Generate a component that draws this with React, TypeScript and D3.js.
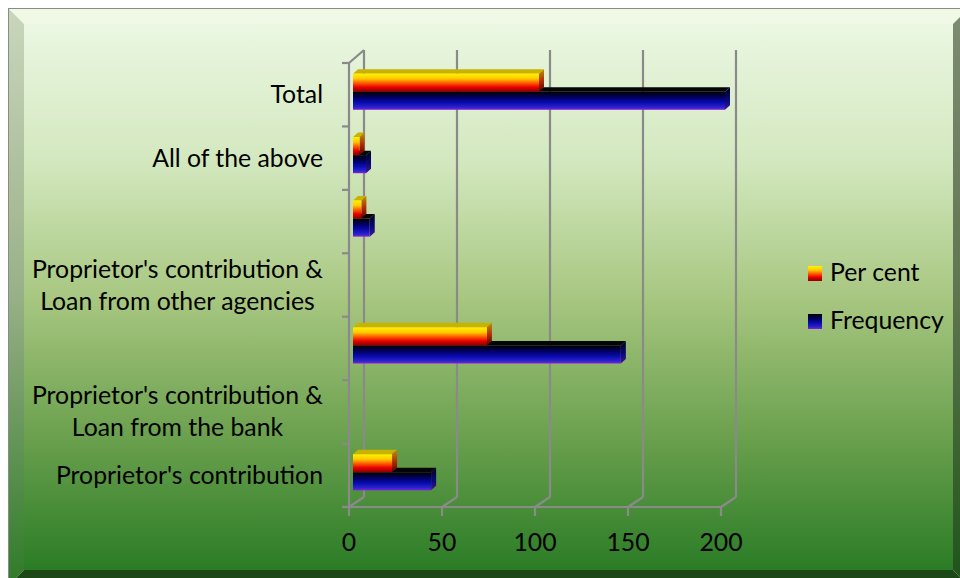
import React, { useLayoutEffect, useRef } from "react";
import * as d3 from "d3";

// Categories listed bottom to top, as they appear on the vertical axis
const categories: string[] = [
  "Proprietor's contribution",
  "Proprietor's contribution &\nLoan from the bank",
  "",
  "Proprietor's contribution &\nLoan from other agencies",
  "",
  "All of the above",
  "Total",
];
const frequency: number[] = [42, 0, 144, 0, 9, 7, 200];
const perCent: number[] = [21, 0, 72, 0, 4.5, 3.5, 100];
const seriesNames: string[] = ["Per cent", "Frequency"];
const xTicks: number[] = [0, 50, 100, 150, 200];

const W = 960;
const H = 578;
const FONT = "Lato, 'Open Sans', sans-serif";
const FS = 24.8;
const LABEL_RIGHT = 323;

// plot geometry (front plane) and 3D offsets
const X0 = 349;
const X1 = 721;
const YB = 507;
const YT = 63;
const DX = 15; // back wall offset
const DY = -10;
const BX = 4; // bar front face offset into depth
const BY = -3;
const EX = 5; // bar extrusion
const EY = -4.5;
const GRID = "#8a8a8a";

export default function App() {
  const labelsRef = useRef<SVGGElement>(null);
  const x = d3.scaleLinear().domain([0, 200]).range([X0, X1]);
  const idx = categories.map((_, i) => i);
  const y = d3.scaleBand<number>().domain(idx).range([YB, YT]).padding(0);
  const step = y.step();
  const groupH = step * 0.57;
  const sub = d3
    .scaleBand<string>()
    .domain(seriesNames)
    .range([0, groupH]);

  // multi-line labels: block right-aligned to the axis, lines centred within it
  useLayoutEffect(() => {
    if (!labelsRef.current) return;
    d3.select(labelsRef.current)
      .selectAll<SVGGElement, unknown>("g.label")
      .each(function () {
        const texts = d3.select(this).selectAll<SVGTextElement, unknown>("text");
        let maxW = 0;
        texts.each(function () {
          maxW = Math.max(maxW, this.getComputedTextLength());
        });
        texts.attr("x", LABEL_RIGHT - maxW / 2).attr("text-anchor", "middle");
      });
  }, []);

  const bar = (i: number, v: number, s: string) => {
    if (!v) return null;
    const top = (y(i) as number) + (step - groupH) / 2 + BY + (sub(s) as number);
    const bot = top + sub.bandwidth();
    const xa = x(0) + BX;
    const xb = x(v) + BX;
    const key = s === "Per cent" ? "pc" : "fq";
    return (
      <g key={`${s}-${i}`}>
        <polygon
          points={`${xa},${top} ${xb},${top} ${xb + EX},${top + EY} ${xa + EX},${top + EY}`}
          fill={key === "pc" ? "#c9b300" : "#050505"}
        />
        <polygon
          points={`${xb},${top} ${xb + EX},${top + EY} ${xb + EX},${bot + EY} ${xb},${bot}`}
          fill={`url(#${key}Side)`}
        />
        <rect x={xa} y={top} width={xb - xa} height={bot - top} fill={`url(#${key}Front)`} />
      </g>
    );
  };

  const label = (i: number) => {
    const lines = categories[i] ? categories[i].split("\n") : [];
    if (!lines.length) return null;
    const c = (y(i) as number) + step / 2;
    const lh = 32;
    const first = c - ((lines.length - 1) * lh) / 2 + 8.5;
    return (
      <g className="label" key={`l${i}`}>
        {lines.map((t, k) => (
          <text
            key={k}
            x={LABEL_RIGHT}
            y={first + k * lh}
            textAnchor="end"
            fontFamily={FONT}
            fontSize={FS}
            fill="#000"
          >
            {t}
          </text>
        ))}
      </g>
    );
  };

  const bandEdges = [...idx.map((i) => (y(i) as number) + step), YT];

  return (
    <svg
      width={W}
      height={H}
      viewBox={`0 0 ${W} ${H}`}
      style={{ position: "absolute", left: 0, top: 0, background: "#fff" }}
    >
      <defs>
        <linearGradient id="bg" x1="0" y1="0" x2="0" y2="1">
          <stop offset="0" stopColor="#ebf7e2" />
          <stop offset="0.25" stopColor="#d3e8bf" />
          <stop offset="0.5" stopColor="#a8c781" />
          <stop offset="0.75" stopColor="#6ca14f" />
          <stop offset="1" stopColor="#2b7c26" />
        </linearGradient>
        <linearGradient id="bevL" x1="0" y1="0" x2="0" y2="1">
          <stop offset="0" stopColor="#c9d6bb" />
          <stop offset="0.5" stopColor="#98b087" />
          <stop offset="1" stopColor="#2f7a28" />
        </linearGradient>
        <linearGradient id="bevR" x1="0" y1="0" x2="0" y2="1">
          <stop offset="0" stopColor="#7e8c72" />
          <stop offset="0.5" stopColor="#5f7550" />
          <stop offset="1" stopColor="#1d531a" />
        </linearGradient>
        <linearGradient id="pcFront" x1="0" y1="0" x2="0" y2="1">
          <stop offset="0" stopColor="#fff200" />
          <stop offset="0.28" stopColor="#ffc800" />
          <stop offset="0.52" stopColor="#ff5a00" />
          <stop offset="0.75" stopColor="#e80000" />
          <stop offset="1" stopColor="#8a0000" />
        </linearGradient>
        <linearGradient id="pcSide" x1="0" y1="0" x2="0" y2="1">
          <stop offset="0" stopColor="#b89400" />
          <stop offset="0.5" stopColor="#b03000" />
          <stop offset="1" stopColor="#5a0000" />
        </linearGradient>
        <linearGradient id="fqFront" x1="0" y1="0" x2="0" y2="1">
          <stop offset="0" stopColor="#000000" />
          <stop offset="0.3" stopColor="#00005c" />
          <stop offset="0.6" stopColor="#0a0ab0" />
          <stop offset="0.85" stopColor="#2424c8" />
          <stop offset="1" stopColor="#8a1ee0" />
        </linearGradient>
        <linearGradient id="fqSide" x1="0" y1="0" x2="0" y2="1">
          <stop offset="0" stopColor="#00001e" />
          <stop offset="0.6" stopColor="#0a0a78" />
          <stop offset="1" stopColor="#4a1492" />
        </linearGradient>
      </defs>

      {/* chart frame with bevelled edges */}
      <rect x={8.5} y={8.5} width={970} height={590} fill="none" stroke="#8a8a8a" />
      <polygon points="9,9 968,9 953,24 24,24" fill="#eff9e6" />
      <polygon points="9,9 24,24 24,570 9,585" fill="url(#bevL)" />
      <polygon points="968,9 968,585 953,570 953,24" fill="url(#bevR)" />
      <polygon points="9,585 24,570 953,570 968,585" fill="#1c4818" />
      <rect x={24} y={24} width={929} height={546} fill="url(#bg)" />

      {/* walls, gridlines and floor */}
      <g stroke={GRID} strokeWidth={2.2} fill="none">
        {xTicks.map((t) => (
          <g key={`g${t}`}>
            <line x1={x(t) + DX} y1={YT + DY - 3} x2={x(t) + DX} y2={YB + DY} />
            <line x1={x(t)} y1={YB} x2={x(t) + DX} y2={YB + DY} />
            <line x1={x(t)} y1={YB} x2={x(t)} y2={YB + 9} />
          </g>
        ))}
        <line x1={X0} y1={YB} x2={X1} y2={YB} />
        <line x1={X0} y1={YT} x2={X0} y2={YB} />
        <line x1={X0} y1={YT} x2={X0 + DX} y2={YT + DY - 3} />
        {bandEdges.map((e, k) => (
          <line key={`t${k}`} x1={X0 - 7} y1={e} x2={X0} y2={e} />
        ))}
      </g>

      {/* bars: frequency drawn first so the per cent bar sits above it */}
      {idx.map((i) => bar(i, frequency[i], "Frequency"))}
      {idx.map((i) => bar(i, perCent[i], "Per cent"))}

      {/* category labels */}
      <g ref={labelsRef}>{idx.map((i) => label(i))}</g>

      {/* value axis labels */}
      {xTicks.map((t) => (
        <text
          key={`x${t}`}
          x={x(t)}
          y={551}
          textAnchor="middle"
          fontFamily={FONT}
          fontSize={FS}
          fill="#000"
        >
          {t}
        </text>
      ))}

      {/* legend */}
      {seriesNames.map((s, k) => (
        <g key={`lg${s}`} transform={`translate(808, ${266 + k * 48})`}>
          <rect width={14} height={15} fill={k === 0 ? "url(#pcFront)" : "url(#fqFront)"} />
          <text x={22} y={15} fontFamily={FONT} fontSize={FS} fill="#000">
            {s}
          </text>
        </g>
      ))}
    </svg>
  );
}
